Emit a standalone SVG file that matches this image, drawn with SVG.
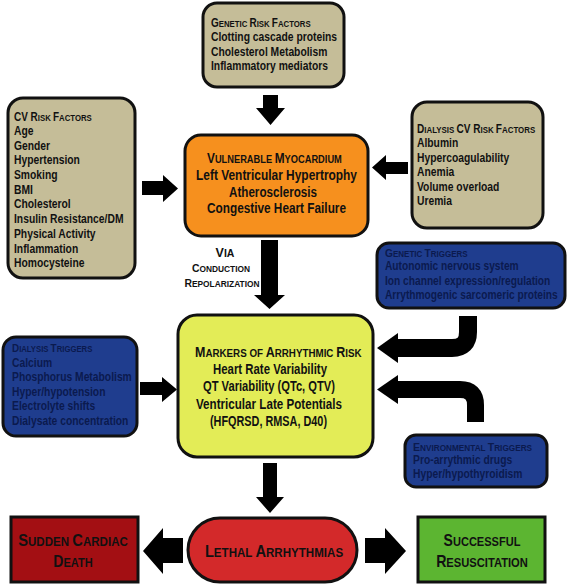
<svg xmlns="http://www.w3.org/2000/svg" width="567" height="586" viewBox="0 0 567 586">
<style>
text{font-family:"Liberation Sans",Arial,sans-serif;font-weight:bold;fill:#111}
.b{font-size:12px}
.s{font-size:9.4px}
.s tspan{font-size:12px}
.v{font-size:14px}
.vs{font-size:11px}
.vs tspan{font-size:14px}
.n{fill:#0b1a4e;font-size:12px}
.ns{fill:#0b1a4e;font-size:9px}
.ns tspan{font-size:11.5px}
.big{font-size:13px}
.big tspan{font-size:16.5px}
.via{font-size:9px}
.via tspan{font-size:11.2px}
.tan{fill:#c5bd98;stroke:#111;stroke-width:3}
.blue{fill:#1f3d8e;stroke:#111;stroke-width:3}
.arr{fill:#000}
</style>
<rect width="567" height="586" fill="#fff"/>
<g id="connectors">
<polygon class="arr" points="263,95 278,95 278,108 285,108 270.5,125 256,108 263,108"/>
<polygon class="arr" points="142,181 163,181 163,175 178,188.5 163,202 163,195 142,195"/>
<polygon class="arr" points="408,162 386,162 386,155 372,167.5 386,180 386,174 408,174"/>
<polygon class="arr" points="261,240 278,240 278,295 285,295 269.5,309 254,295 261,295"/>
<polygon class="arr" points="140,382 162,382 162,377 177,389.5 162,402 162,395 140,395"/>
<path d="M468,316 V332 Q468,348 452,348 H394" fill="none" stroke="#000" stroke-width="18"/>
<polygon class="arr" points="398,333 377,348 398,363"/>
<path d="M475.5,422 V405 Q475.5,389.5 460,389.5 H394" fill="none" stroke="#000" stroke-width="17"/>
<polygon class="arr" points="398,375 377,389.5 398,404"/>
<polygon class="arr" points="263,463 277,463 277,497 284,497 270,513 256,497 263,497"/>
<polygon class="arr" points="183,538 163,538 163,528 143,551 163,574 163,563 183,563"/>
<polygon class="arr" points="365,538 385,538 385,528 406,551 385,574 385,563 365,563"/>
</g>
<g id="genetic-risk">
<rect class="tan" x="203" y="3" width="141" height="84" rx="14"/>
<text class="s" x="211" y="27" transform="matrix(0.83,0,0,1,35.87,0)"><tspan>G</tspan>ENETIC <tspan>R</tspan>ISK <tspan>F</tspan>ACTORS</text>
<g transform="matrix(0.86,0,0,1,29.54,0)">
<text class="b" x="211" y="41">Clotting cascade proteins</text>
<text class="b" x="211" y="56">Cholesterol Metabolism</text>
<text class="b" x="211" y="70">Inflammatory mediators</text>
</g>
</g>
<g id="cv-risk">
<rect class="tan" x="8" y="98" width="127" height="180" rx="15"/>
<text class="s" x="14" y="121" transform="matrix(0.83,0,0,1,2.38,0)"><tspan>CV R</tspan>ISK <tspan>F</tspan>ACTORS</text>
<g transform="matrix(0.86,0,0,1,1.96,0)">
<text class="b" x="14" y="135">Age</text>
<text class="b" x="14" y="149.7">Gender</text>
<text class="b" x="14" y="164.4">Hypertension</text>
<text class="b" x="14" y="179.1">Smoking</text>
<text class="b" x="14" y="193.8">BMI</text>
<text class="b" x="14" y="208.5">Cholesterol</text>
<text class="b" x="14" y="223.2">Insulin Resistance/DM</text>
<text class="b" x="14" y="237.9">Physical Activity</text>
<text class="b" x="14" y="252.6">Inflammation</text>
<text class="b" x="14" y="267.3">Homocysteine</text>
</g>
</g>
<g id="vulnerable-myocardium">
<rect x="185" y="135" width="183" height="101" rx="16" fill="#f6901e" stroke="#111" stroke-width="3"/>
<text class="vs" x="207" y="163" transform="matrix(0.845,0,0,1,32.09,0)"><tspan>V</tspan>ULNERABLE <tspan>M</tspan>YOCARDIUM</text>
<text class="v" x="196" y="180" textLength="161" lengthAdjust="spacingAndGlyphs">Left Ventricular Hypertrophy</text>
<text class="v" x="229" y="197" textLength="88" lengthAdjust="spacingAndGlyphs">Atherosclerosis</text>
<text class="v" x="207" y="213" textLength="139" lengthAdjust="spacingAndGlyphs">Congestive Heart Failure</text>
</g>
<g id="dialysis-cv-risk">
<rect class="tan" x="412" y="102" width="131" height="126" rx="15"/>
<text class="s" x="417" y="133" transform="matrix(0.84,0,0,1,66.72,0)"><tspan>D</tspan>IALYSIS <tspan>CV R</tspan>ISK <tspan>F</tspan>ACTORS</text>
<g transform="matrix(0.86,0,0,1,58.38,0)">
<text class="b" x="417" y="147">Albumin</text>
<text class="b" x="417" y="162">Hypercoagulability</text>
<text class="b" x="417" y="176">Anemia</text>
<text class="b" x="417" y="191">Volume overload</text>
<text class="b" x="417" y="205">Uremia</text>
</g>
</g>
<g id="via-label">
<text class="via" x="225" y="257" text-anchor="middle" style="font-size:10.5px"><tspan style="font-size:12.5px">V</tspan>IA</text>
<text class="via" x="221" y="272" text-anchor="middle" transform="matrix(0.93,0,0,1,15.47,0)"><tspan>C</tspan>ONDUCTION</text>
<text class="via" x="222" y="287" text-anchor="middle" transform="matrix(0.93,0,0,1,15.54,0)"><tspan>R</tspan>EPOLARIZATION</text>
</g>
<g id="genetic-triggers">
<rect class="blue" x="377" y="243" width="188" height="65" rx="12"/>
<text class="ns" x="385" y="257" transform="matrix(0.89,0,0,1,42.35,0)"><tspan>G</tspan>ENETIC <tspan>T</tspan>RIGGERS</text>
<g transform="matrix(0.85,0,0,1,57.75,0)">
<text class="n" x="385" y="270.5">Autonomic nervous system</text>
<text class="n" x="385" y="285">Ion channel expression/regulation</text>
<text class="n" x="385" y="299.5">Arrythmogenic sarcomeric proteins</text>
</g>
</g>
<g id="dialysis-triggers">
<rect class="blue" x="3" y="337" width="134" height="99" rx="13"/>
<text class="ns" x="12" y="352" transform="matrix(0.86,0,0,1,1.68,0)"><tspan>D</tspan>IALYSIS <tspan>T</tspan>RIGGERS</text>
<g transform="matrix(0.86,0,0,1,1.68,0)">
<text class="n" x="12" y="367">Calcium</text>
<text class="n" x="12" y="381.5">Phosphorus Metabolism</text>
<text class="n" x="12" y="396">Hyper/hypotension</text>
<text class="n" x="12" y="410.5">Electrolyte shifts</text>
<text class="n" x="12" y="425">Dialysate concentration</text>
</g>
</g>
<g id="markers">
<rect x="178" y="315" width="195" height="142" rx="19" fill="#e3ec57" stroke="#111" stroke-width="3"/>
<text class="vs" x="195" y="357" transform="matrix(0.89,0,0,1,21.45,0)"><tspan>M</tspan>ARKERS OF <tspan>A</tspan>RRHYTHMIC <tspan>R</tspan>ISK</text>
<text class="v" x="213" y="374" textLength="114" lengthAdjust="spacingAndGlyphs">Heart Rate Variability</text>
<text class="v" x="203" y="391" textLength="132" lengthAdjust="spacingAndGlyphs">QT Variability (QTc, QTV)</text>
<text class="v" x="196" y="408.5" textLength="146" lengthAdjust="spacingAndGlyphs">Ventricular Late Potentials</text>
<text class="v" x="210" y="426" textLength="117" lengthAdjust="spacingAndGlyphs">(HFQRSD, RMSA, D40)</text>
</g>
<g id="environmental-triggers">
<rect class="blue" x="405" y="435" width="142" height="52" rx="11"/>
<text class="ns" x="413" y="451" transform="matrix(0.915,0,0,1,35.1,0)"><tspan>E</tspan>NVIRONMENTAL <tspan>T</tspan>RIGGERS</text>
<g transform="matrix(0.86,0,0,1,57.82,0)">
<text class="n" x="413" y="464.5">Pro-arrythmic drugs</text>
<text class="n" x="413" y="478.5">Hyper/hypothyroidism</text>
</g>
</g>
<g id="sudden-cardiac-death">
<rect x="11" y="517" width="127" height="65" fill="#a30f13" stroke="#111" stroke-width="3"/>
<text class="big" x="73" y="546" text-anchor="middle" transform="matrix(0.89,0,0,1,8.03,0)"><tspan>S</tspan>UDDEN <tspan>C</tspan>ARDIAC</text>
<text class="big" x="73" y="567" text-anchor="middle" transform="matrix(0.85,0,0,1,10.95,0)"><tspan>D</tspan>EATH</text>
</g>
<g id="lethal-arrhythmias">
<rect x="188" y="518" width="169" height="64" rx="32" fill="#d3292a" stroke="#111" stroke-width="3"/>
<text class="big" x="274" y="557" text-anchor="middle" transform="matrix(0.89,0,0,1,30.14,0)"><tspan>L</tspan>ETHAL <tspan>A</tspan>RRHYTHMIAS</text>
</g>
<g id="successful-resuscitation">
<rect x="418" y="517" width="127" height="65" fill="#5cb531" stroke="#111" stroke-width="3"/>
<text class="big" x="482" y="546" text-anchor="middle" transform="matrix(0.85,0,0,1,72.3,0)"><tspan>S</tspan>UCCESSFUL</text>
<text class="big" x="482" y="567" text-anchor="middle" transform="matrix(0.86,0,0,1,67.48,0)"><tspan>R</tspan>ESUSCITATION</text>
</g>
</svg>
